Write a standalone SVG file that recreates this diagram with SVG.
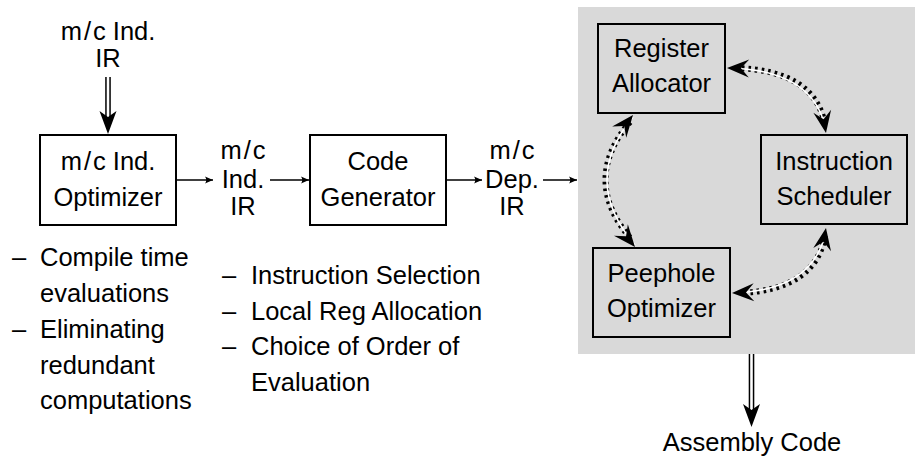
<svg xmlns="http://www.w3.org/2000/svg" xmlns:xlink="http://www.w3.org/1999/xlink" width="915" height="456" viewBox="0 0 915 456">
<style>
text{font-family:"Liberation Sans",Arial,sans-serif;font-size:25.5px;fill:#000}
.c{text-anchor:middle}
.box{fill:none;stroke:#000;stroke-width:2}
.wbox{fill:#fff;stroke:#000;stroke-width:2}
.ln{fill:none;stroke:#000;stroke-width:1.5}
.dot{fill:none;stroke:#000;stroke-width:6;stroke-dasharray:2.6 4}
.wl{fill:none;stroke:#fff;stroke-width:1.6}
</style>
<defs>
<marker id="small" markerUnits="userSpaceOnUse" viewBox="-10 -5 11 10" refX="0" refY="0" markerWidth="11" markerHeight="10" orient="auto" overflow="visible">
<path d="M0,0 L-8,-3.6 Q-5.5,0 -8,3.6 Z" fill="#000"/>
</marker>
<path id="ah" d="M0,0 L-22,-9 L-14,0 L-22,9 Z" fill="#000"/>
</defs>
<rect id="backend" x="578" y="7" width="337" height="347" fill="#d9d9d9"/>

<g id="input-label">
<text class="c" x="108" y="40">m<tspan dx="2">/</tspan><tspan dx="2">c</tspan> Ind.</text>
<text class="c" x="108" y="67">IR</text>
</g>

<g id="optimizer">
<rect class="wbox" x="40" y="135" width="136" height="90"/>
<text class="c" x="108" y="170">m<tspan dx="2">/</tspan><tspan dx="2">c</tspan> Ind.</text>
<text class="c" x="108" y="206">Optimizer</text>
</g>

<g id="ind-ir">
<text class="c" x="243" y="159">m<tspan dx="2">/</tspan><tspan dx="2">c</tspan></text>
<text class="c" x="243" y="188">Ind.</text>
<text class="c" x="243" y="215">IR</text>
</g>

<g id="codegen">
<rect class="wbox" x="310" y="135" width="136" height="90"/>
<text class="c" x="378" y="170">Code</text>
<text class="c" x="378" y="206">Generator</text>
</g>

<g id="dep-ir">
<text class="c" x="512" y="159">m<tspan dx="2">/</tspan><tspan dx="2">c</tspan></text>
<text class="c" x="512" y="188">Dep.</text>
<text class="c" x="512" y="215">IR</text>
</g>

<g id="regalloc">
<rect class="box" x="598" y="24" width="127" height="89"/>
<text class="c" x="661.5" y="57">Register</text>
<text class="c" x="661.5" y="92">Allocator</text>
</g>

<g id="scheduler">
<rect class="box" x="761" y="135" width="146" height="89"/>
<text class="c" x="834" y="170">Instruction</text>
<text class="c" x="834" y="205">Scheduler</text>
</g>

<g id="peephole">
<rect class="box" x="593" y="248" width="137" height="89"/>
<text class="c" x="661.5" y="282">Peephole</text>
<text class="c" x="661.5" y="317">Optimizer</text>
</g>

<g id="output-label">
<text class="c" x="752" y="451">Assembly Code</text>
</g>

<g id="notes-optimizer">
<text x="12" y="266">–</text><text x="40" y="266">Compile time</text>
<text x="40" y="302">evaluations</text>
<text x="12" y="338">–</text><text x="40" y="338">Eliminating</text>
<text x="40" y="374">redundant</text>
<text x="40" y="409">computations</text>
</g>

<g id="notes-codegen">
<text x="222" y="284">–</text><text x="251" y="284">Instruction Selection</text>
<text x="222" y="320">–</text><text x="251" y="320">Local Reg Allocation</text>
<text x="222" y="355">–</text><text x="251" y="355">Choice of Order of</text>
<text x="251" y="391">Evaluation</text>
</g>

<g id="connectors">
<line x1="108" y1="77" x2="108" y2="118" stroke="#000" stroke-width="5.6"/>
<line x1="108" y1="77" x2="108" y2="119" stroke="#fff" stroke-width="2.6"/>
<path d="M108,134 L99.5,111 L108,117 L116.5,111 Z" fill="#000"/>

<line class="ln" x1="176" y1="180" x2="213" y2="180" marker-end="url(#small)"/>
<line class="ln" x1="270" y1="180" x2="309" y2="180" marker-end="url(#small)"/>
<line class="ln" x1="446" y1="180" x2="482" y2="180" marker-end="url(#small)"/>
<line class="ln" x1="543" y1="180" x2="577" y2="180" marker-end="url(#small)"/>

<path class="dot" d="M735,68 Q815,70 825,125"/>
<path class="wl" d="M729,68 Q815,70 826,131"/>
<use xlink:href="#ah" href="#ah" transform="translate(727,68) rotate(181.3)"/>
<use xlink:href="#ah" href="#ah" transform="translate(826,133) rotate(80.1)"/>

<path class="dot" d="M630,122 Q580,181 632,240"/>
<path class="wl" d="M633,117 Q580,181 635,245"/>
<use xlink:href="#ah" href="#ah" transform="translate(633,115) rotate(-51.2)"/>
<use xlink:href="#ah" href="#ah" transform="translate(635,247) rotate(50.2)"/>

<path class="dot" d="M825,236 Q815,290 740,293"/>
<path class="wl" d="M826,230 Q815,290 734,293"/>
<use xlink:href="#ah" href="#ah" transform="translate(826,228) rotate(-79.9)"/>
<use xlink:href="#ah" href="#ah" transform="translate(732,293) rotate(177.9)"/>

<line x1="751.5" y1="354" x2="751.5" y2="410" stroke="#000" stroke-width="5.6"/>
<line x1="751.5" y1="354" x2="751.5" y2="411" stroke="#fff" stroke-width="2.6"/>
<path d="M751.5,427 L743,404 L751.5,410 L760,404 Z" fill="#000"/>
</g>
</svg>
